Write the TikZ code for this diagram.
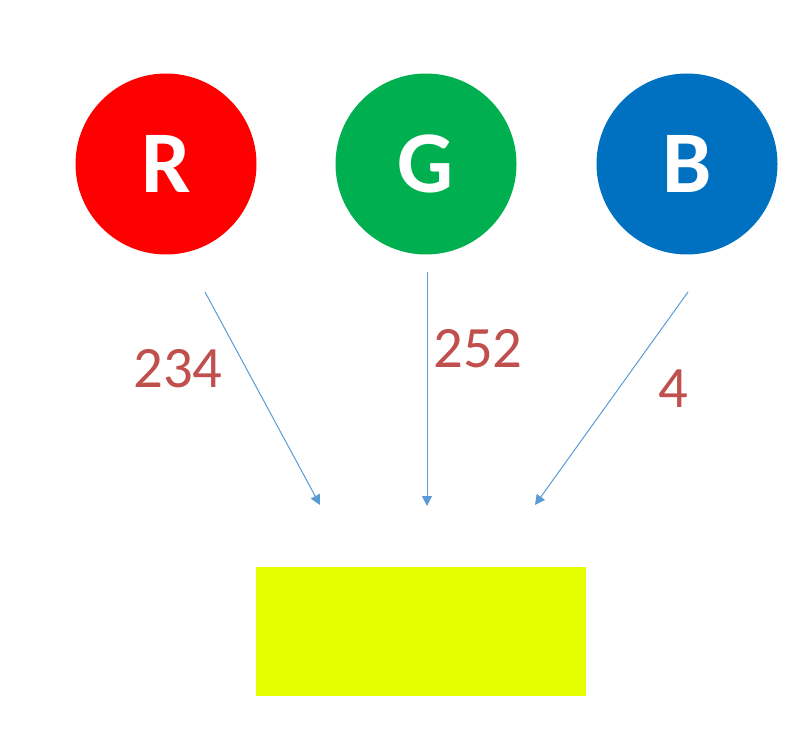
\documentclass[tikz,border=0pt]{standalone}
\usepackage{fontspec}
\setmainfont{Carlito}
\usepackage{xcolor}
\usetikzlibrary{arrows.meta,positioning}
\definecolor{chanR}{HTML}{FF0000}
\definecolor{chanG}{HTML}{00B050}
\definecolor{chanB}{HTML}{0070C0}
\definecolor{mixfill}{HTML}{E6FF00}
\definecolor{valtext}{HTML}{C0504D}
\definecolor{linkblue}{HTML}{5B9BD5}
\begin{document}
\begin{tikzpicture}[
  x=0.75pt, y=-0.75pt,
  channel/.style={circle, minimum size=135.75pt, inner sep=0pt,
                  text=white, font=\fontsize{66}{66}\selectfont\bfseries},
  mixed/.style={minimum width=247.5pt, minimum height=96.75pt,
                inner sep=0pt, fill=mixfill},
  value/.style={anchor=base, text=valtext,
                font=\fontsize{44}{44}\selectfont},
  arrow/.style={-{Triangle[length=7.5pt, width=7.5pt]}, linkblue, line width=0.75pt}
]
\useasboundingbox (0,0) rectangle (812,737);
\node[channel, fill=chanR] (r) at (166,164) {R};
\node[channel, fill=chanG] (g) at (426,164) {G};
\node[channel, fill=chanB] (b) at (687,164) {B};
\node[mixed] (mix) at (421,631.5) {};

\coordinate (rs) at (205,292);
\coordinate (re) at (320,505);
\coordinate (gs) at (427,272);
\coordinate (ge) at (427,506);
\coordinate (bs) at (688,292);
\coordinate (be) at (535,505);

\draw[arrow] (rs) -- (re);
\draw[arrow] (gs) -- (ge);
\draw[arrow] (bs) -- (be);

\node[value] (rv) at (178,387) {234};
\node[value] (gv) at (478,367) {252};
\node[value] (bv) at (673,407) {4};
\end{tikzpicture}
\end{document}
